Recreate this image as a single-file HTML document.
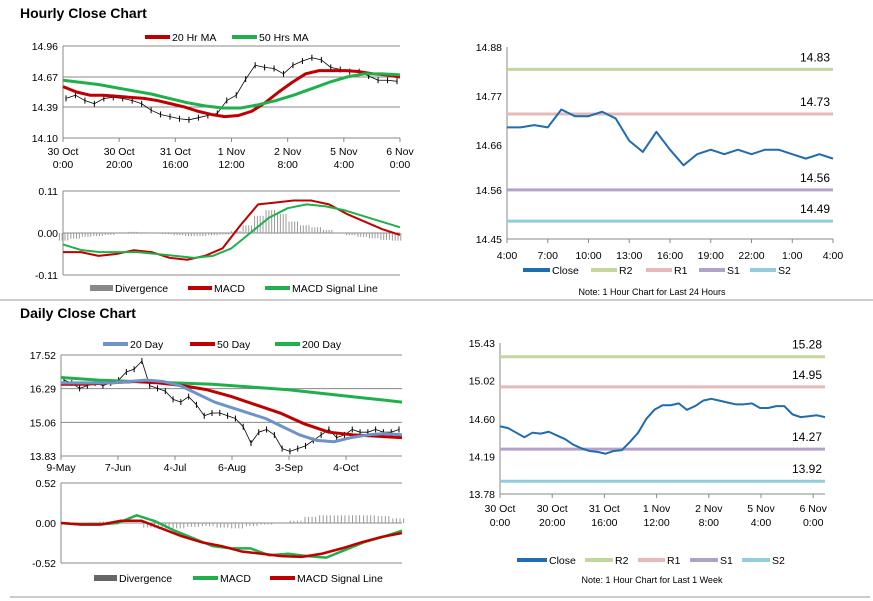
<!DOCTYPE html>
<html><head><meta charset="utf-8"><style>
html,body{margin:0;padding:0;background:#fff;}
svg{display:block;font-family:"Liberation Sans",Arial,sans-serif;}
</style></head><body>
<svg id="s" width="873" height="601" viewBox="0 0 873 601">
<text x="20" y="18" font-size="14" font-weight="bold">Hourly Close Chart</text>
<line x1="0" y1="300" x2="873" y2="300" stroke="#999"/>
<line x1="10" y1="597" x2="870" y2="597" stroke="#999"/>
<text x="20" y="318" font-size="14" font-weight="bold">Daily Close Chart</text>
</svg>
<script>
// ---- Hourly price (top-left)
const hCloseVals=[14.47,14.50,14.45,14.42,14.47,14.48,14.47,14.45,14.42,14.36,14.32,14.30,14.28,14.27,14.29,14.31,14.33,14.45,14.50,14.65,14.78,14.76,14.75,14.70,14.78,14.82,14.85,14.83,14.76,14.74,14.72,14.72,14.68,14.64,14.64,14.63];
const hMA20=[14.58,14.53,14.50,14.50,14.49,14.48,14.47,14.45,14.42,14.39,14.35,14.32,14.30,14.31,14.35,14.43,14.53,14.62,14.70,14.73,14.73,14.73,14.72,14.70,14.69,14.67];
const hMA50=[14.64,14.62,14.60,14.57,14.54,14.51,14.47,14.43,14.40,14.38,14.38,14.41,14.45,14.50,14.56,14.62,14.67,14.70,14.70,14.69];
const hTicks=[14.10,14.39,14.67,14.96];
const hXLabels=[["30 Oct","0:00"],["30 Oct","20:00"],["31 Oct","16:00"],["1 Nov","12:00"],["2 Nov","8:00"],["5 Nov","4:00"],["6 Nov","0:00"]];
// ---- Hourly MACD
const hMacd=[-0.05,-0.05,-0.06,-0.055,-0.045,-0.05,-0.065,-0.07,-0.06,-0.04,0.02,0.075,0.08,0.085,0.085,0.075,0.05,0.03,0.01,-0.005];
const hSignal=[-0.03,-0.045,-0.05,-0.05,-0.05,-0.055,-0.06,-0.065,-0.06,-0.04,0.0,0.04,0.065,0.075,0.07,0.06,0.045,0.03,0.015];
const hDiv=[-0.02,-0.015,-0.01,-0.008,-0.005,0,0.003,0.002,0,-0.003,-0.006,-0.008,-0.008,-0.006,-0.004,0.005,0.02,0.045,0.06,0.05,0.03,0.02,0.015,0.008,0,-0.006,-0.01,-0.014,-0.018,-0.02];
const hMacdTicks=[-0.11,0.00,0.11];
// ---- 24h chart (top-right)
const dayClose=[14.70,14.70,14.705,14.70,14.74,14.725,14.725,14.735,14.72,14.67,14.645,14.69,14.65,14.615,14.64,14.65,14.64,14.65,14.64,14.65,14.65,14.64,14.63,14.64,14.63];
const dayLevels=[14.83,14.73,14.56,14.49];
const dayTicks=[14.45,14.56,14.66,14.77,14.88];
const dayXLabels=["4:00","7:00","10:00","13:00","16:00","19:00","22:00","1:00","4:00"];
// ---- Daily price (bottom-left)
const dCloseVals=[16.6,16.5,16.3,16.4,16.5,16.4,16.5,16.6,16.9,17.0,17.3,16.4,16.3,16.2,15.9,15.8,16.0,15.7,15.3,15.4,15.4,15.3,15.2,14.9,14.3,14.7,14.8,14.6,14.1,14.0,14.1,14.2,14.4,14.6,14.8,14.5,14.6,14.8,14.7,14.7,14.8,14.7,14.7,14.8];
const dMA20=[16.5,16.5,16.5,16.5,16.55,16.6,16.55,16.4,16.1,15.8,15.6,15.4,15.2,14.9,14.6,14.4,14.35,14.5,14.6,14.65,14.6];
const dMA50=[16.45,16.45,16.5,16.55,16.5,16.4,16.25,16.0,15.7,15.4,15.0,14.7,14.6,14.55,14.5];
const dMA200=[16.7,16.6,16.55,16.5,16.45,16.35,16.25,16.1,15.95,15.8];
const dTicks=[13.83,15.06,16.29,17.52];
const dXLabels=["9-May","7-Jun","4-Jul","6-Aug","3-Sep","4-Oct"];
// ---- Daily MACD
const dMacd=[0,-0.02,-0.02,0,0.1,0.02,-0.1,-0.2,-0.3,-0.33,-0.33,-0.42,-0.4,-0.43,-0.45,-0.35,-0.25,-0.18,-0.1];
const dSignal=[0,-0.02,-0.02,0.03,0.03,-0.07,-0.17,-0.25,-0.3,-0.37,-0.40,-0.43,-0.44,-0.40,-0.33,-0.25,-0.18,-0.13];
const dDiv=[0,0,0,0.02,0.02,0,-0.06,-0.08,-0.07,-0.05,-0.04,-0.06,-0.07,-0.04,-0.02,0,0.03,0.08,0.1,0.1,0.1,0.1,0.09,0.06];
const dMacdTicks=[-0.52,0.00,0.52];
// ---- Week chart (bottom-right)
const wkClose=[14.52,14.50,14.45,14.40,14.45,14.44,14.46,14.42,14.38,14.32,14.28,14.25,14.24,14.22,14.25,14.26,14.35,14.45,14.60,14.70,14.75,14.75,14.77,14.70,14.74,14.80,14.82,14.80,14.78,14.76,14.76,14.77,14.72,14.72,14.74,14.74,14.65,14.62,14.63,14.64,14.62];
const wkLevels=[15.28,14.95,14.27,13.92];
const wkTicks=[13.78,14.19,14.60,15.02,15.43];

const S=document.getElementById('s');
const NS='http://www.w3.org/2000/svg';
function mk(tag,name,attrs,inter){
  const el=document.createElementNS(NS,tag);
  for(const k in attrs) el.setAttribute(k,attrs[k]);
  
  
  S.appendChild(el);return el;
}
function txt(name,x,y,s,size,anchor,fill){const t=mk('text',name,{x:x,y:y,'font-size':size||10.5,'text-anchor':anchor||'start',fill:fill||'#000'});t.textContent=s;return t;}
function scale(d0,d1,r0,r1){return v=>r0+(v-d0)/(d1-d0)*(r1-r0);}
function poly(name,arr,x0,x1,y,color,w){
  const xs=scale(0,arr.length-1,x0,x1);
  mk('polyline',name,{points:arr.map((v,i)=>xs(i)+','+y(v)).join(' '),fill:'none',stroke:color,'stroke-width':w,'stroke-linejoin':'round'});
}
function grid(name,ticks,y,x0,x1,fmt,gridOn){
  ticks.forEach(t=>{
    if(gridOn) mk('line',name+'-grid',{x1:x0,x2:x1,y1:y(t),y2:y(t),stroke:'#888','stroke-width':1});
    txt(name+'-tick-label',x0-5,y(t)+4,t.toFixed(2),10.5,'end');
  });
  mk('line',name+'-axis',{x1:x0,x2:x0,y1:y(ticks[ticks.length-1]),y2:y(ticks[0]),stroke:'#888'});
}
function bars(name,arr,x0,x1,y,color){
  const xs=scale(0,arr.length-1,x0+2,x1-2);const st=(x1-x0)/arr.length;
  arr.forEach((v,i)=>{for(let k=0;k<4;k++){const x=xs(i)-st/2+k*st/4;mk('line',name,{x1:x,x2:x,y1:y(0),y2:y(v),stroke:color,'stroke-width':1});}});
}
function sticks(name,arr,x0,x1,y){
  const xs=scale(0,arr.length-1,x0+3,x1-3);
  poly(name+'-line',arr,x0+3,x1-3,y,'#000',0.8);
  arr.forEach((v,i)=>{mk('line',name,{x1:xs(i),x2:xs(i),y1:y(v)-3,y2:y(v)+3,stroke:'#000','stroke-width':1});});
}
function legend(name,items,y){
  items.forEach(it=>{
    if(it.bar) mk('rect',name+'-swatch',{x:it.x,y:y-3,width:it.w,height:6,fill:it.c});
    else mk('line',name+'-swatch',{x1:it.x,x2:it.x+it.w,y1:y,y2:y,stroke:it.c,'stroke-width':4});
    txt(name+'-entry',it.x+it.w+2,y+4,it.t,10.5);
  });
}
const RED='#c00000',GREEN='#1fb04b',BLUE='#6d93c8',CBLUE='#1f6cb0';

// Hourly price
{const x0=63,x1=400,y=scale(14.10,14.96,138,46);
grid('hourly-y',hTicks,y,x0,x1,null,true);
hXLabels.forEach((l,i)=>{const x=x0+i*(x1-x0)/6;mk('line','hourly-x-tick',{x1:x,x2:x,y1:138,y2:142,stroke:'#888'});txt('hourly-x-label',x,155,l[0],10.5,'middle');txt('hourly-x-label',x,168,l[1],10.5,'middle');});
sticks('hourly-close-bar',hCloseVals,x0,x1,y);
poly('hourly-ma20-line',hMA20,x0,x1,y,RED,3);
poly('hourly-ma50-line',hMA50,x0,x1,y,GREEN,3);
legend('hourly-legend',[{x:145,w:25,c:RED,t:'20 Hr MA'},{x:232,w:25,c:GREEN,t:'50 Hrs MA'}],37);}
// Hourly MACD
{const x0=63,x1=400,y=scale(-0.11,0.11,275,191);
grid('hourly-macd-y',hMacdTicks,y,x0,x1,null,true);
bars('hourly-divergence-bar',hDiv,x0,x1,y,'#999');
poly('hourly-macd-line',hMacd,x0,x1,y,RED,2);
poly('hourly-signal-line',hSignal,x0,x1,y,GREEN,2);
legend('hourly-macd-legend',[{x:90,w:23,c:'#888',t:'Divergence',bar:1},{x:188,w:24,c:RED,t:'MACD'},{x:265,w:25,c:GREEN,t:'MACD Signal Line'}],288);}
// 24h chart
{const x0=507,x1=833,y=scale(14.45,14.88,239,47);
grid('day-y',dayTicks,y,x0,x1,null,false);
mk('line','day-x-axis',{x1:x0,x2:x1,y1:239,y2:239,stroke:'#888'});
dayXLabels.forEach((l,i)=>{const x=x0+i*(x1-x0)/8;mk('line','day-x-tick',{x1:x,x2:x,y1:239,y2:243,stroke:'#888'});txt('day-x-label',x,259,l,10.5,'middle');});
const lc=['#c3d69b','#e6b9b8','#b3a2c7','#93cddd'];
dayLevels.forEach((v,i)=>{mk('line','day-level-line',{x1:x0,x2:x1,y1:y(v),y2:y(v),stroke:lc[i],'stroke-width':3});txt('day-level-label',x1-3,y(v)-8,v.toFixed(2),12,'end');});
poly('day-close-line',dayClose,x0,x1,y,CBLUE,2);
legend('day-legend',[{x:523,w:27,c:CBLUE,t:'Close'},{x:591,w:26,c:lc[0],t:'R2'},{x:646,w:26,c:lc[1],t:'R1'},{x:699,w:26,c:lc[2],t:'S1'},{x:750,w:26,c:lc[3],t:'S2'}],270);
txt('day-note',652,295,'Note: 1 Hour Chart for Last 24 Hours',9,'middle');}
// Daily price
{const x0=61,x1=402,y=scale(13.83,17.52,456,355);
grid('daily-y',dTicks,y,x0,x1,null,true);
dXLabels.forEach((l,i)=>{const x=x0+i*57;mk('line','daily-x-tick',{x1:x,x2:x,y1:456,y2:460,stroke:'#888'});txt('daily-x-label',x,471,l,10.5,'middle');});
sticks('daily-close-bar',dCloseVals,x0,x1,y);
poly('daily-ma200-line',dMA200,x0,x1,y,GREEN,3);
poly('daily-ma50-line',dMA50,x0,x1,y,RED,3);
poly('daily-ma20-line',dMA20,x0,x1,y,BLUE,3);
legend('daily-legend',[{x:103,w:25,c:BLUE,t:'20 Day'},{x:190,w:25,c:RED,t:'50 Day'},{x:275,w:25,c:GREEN,t:'200 Day'}],344);}
// Daily MACD
{const x0=61,x1=402,y=scale(-0.52,0.52,563,483);
grid('daily-macd-y',dMacdTicks,y,x0,x1,null,true);
bars('daily-divergence-bar',dDiv,x0,x1,y,'#999');
poly('daily-macd-line',dMacd,x0,x1,y,GREEN,2.5);
poly('daily-signal-line',dSignal,x0,x1,y,RED,2.5);
legend('daily-macd-legend',[{x:94,w:23,c:'#666',t:'Divergence',bar:1},{x:193,w:25,c:GREEN,t:'MACD'},{x:270,w:25,c:RED,t:'MACD Signal Line'}],578);}
// Week chart
{const x0=500,x1=825,y=scale(13.78,15.43,494,343);
grid('week-y',wkTicks,y,x0,x1,null,false);
mk('line','week-x-axis',{x1:x0,x2:x1,y1:494,y2:494,stroke:'#888'});
hXLabels.forEach((l,i)=>{const x=x0+i*52.2;mk('line','week-x-tick',{x1:x,x2:x,y1:494,y2:498,stroke:'#888'});txt('week-x-label',x,512,l[0],10.5,'middle');txt('week-x-label',x,526,l[1],10.5,'middle');});
const lc=['#c3d69b','#e6b9b8','#b3a2c7','#93cddd'];
wkLevels.forEach((v,i)=>{mk('line','week-level-line',{x1:x0,x2:x1,y1:y(v),y2:y(v),stroke:lc[i],'stroke-width':3});txt('week-level-label',x1-3,y(v)-8,v.toFixed(2),12,'end');});
poly('week-close-line',wkClose,x0,x1,y,CBLUE,2);
legend('week-legend',[{x:517,w:30,c:CBLUE,t:'Close'},{x:585,w:28,c:lc[0],t:'R2'},{x:638,w:27,c:lc[1],t:'R1'},{x:690,w:28,c:lc[2],t:'S1'},{x:742,w:28,c:lc[3],t:'S2'}],560);
txt('week-note',652,583,'Note: 1 Hour Chart for Last 1 Week',9,'middle');}
</script>
</body></html>
